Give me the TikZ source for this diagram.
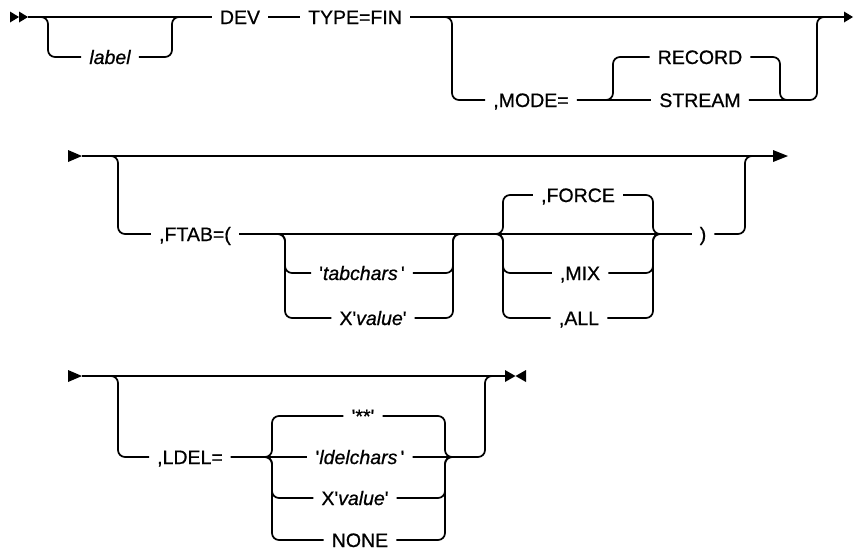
\documentclass[tikz,border=0pt]{standalone}
\usepackage{fontspec}
\setmainfont{Liberation Sans}
\newfontfamily\railfont[FakeBold=0.7]{Liberation Sans}
\usetikzlibrary{calc}
\newcommand{\sq}{\textquotesingle}
\begin{document}
\begin{tikzpicture}[x=1pt,y=-1pt,
  rail/.style={line width=1.7pt, rounded corners=7pt},
  kw/.style={font=\railfont\fontsize{19.5}{22}\selectfont, inner xsep=8pt, inner ysep=0pt, text height=14pt, text depth=0pt},
  var/.style={kw, font=\railfont\fontsize{19.5}{22}\selectfont\itshape},
  tipfill/.style={fill=black}]
\useasboundingbox (0,0) rectangle (854,550);

% ---------- row 1 ----------
\coordinate (s1) at (28,17);
\coordinate (e1) at (845,17);
\coordinate (lab-l) at (48,17);
\coordinate (lab-r) at (172,17);
\coordinate (m-l) at (452,17);
\coordinate (m-r) at (817,17);
\coordinate (rs-l) at (613,100);
\coordinate (rs-r) at (780,100);
\coordinate (rs-o) at (792,100);

\node[var] (label) at (110,57) {label};
\node[kw] (dev) at (240,17) {DEV};
\node[kw] (type) at (355,17) {TYPE=FIN};
\node[kw] (mode) at (531,100) {,MODE=};
\node[kw] (record) at (700,57) {RECORD};
\node[kw] (stream) at (700,100) {STREAM};

\fill[tipfill] (10,11.5) -- (19,17) -- (10,22.5) -- cycle;
\fill[tipfill] (19,11.5) -- (28,17) -- (19,22.5) -- cycle;
\draw[rail] (s1) -- (dev.west);
\draw[rail] (s1) -| (lab-l |- label) -- (label.west);
\draw[rail] (label.east) -| (lab-r) -- (dev.west);
\draw[rail] (dev.east) -- (type.west);
\draw[rail] (type.east) -- (e1);
\fill[tipfill] (844,11.5) -- (853,17) -- (844,22.5) -- cycle;
\draw[rail] (type.east) -| (m-l |- mode) -- (mode.west);
\draw[rail] (mode.east) -- (stream.west);
\draw[rail] (mode.east) -| (rs-l |- record) -- (record.west);
\draw[rail] (record.east) -| (rs-r) -- (rs-o);
\draw[rail] (stream.east) -| (m-r) -- (e1);

% ---------- row 2 ----------
\coordinate (s2) at (82,156);
\coordinate (e2) at (774,156);
\coordinate (f-l) at (118,156);
\coordinate (t-l) at (285,234);
\coordinate (t-r) at (453,234);
\coordinate (g-l) at (503,234);
\coordinate (g-r) at (653,234);
\coordinate (f-r) at (745,156);

\node[kw] (ftab) at (195,234) {,FTAB=(};
\node[var] (tab) at (362,273) {\upshape\sq\itshape tabchars\,\upshape\sq};
\node[kw] (xv) at (373,318) {X\sq\textit{value}\sq};
\node[kw] (force) at (578,195) {,FORCE};
\node[kw] (mix) at (580,273) {,MIX};
\node[kw] (all) at (579,318) {,ALL};
\node[kw] (rp) at (703,234) {)};

\fill[tipfill] (68,150) -- (82,156) -- (68,162) -- cycle;
\draw[rail] (s2) -- (e2);
\fill[tipfill] (773,150) -- (788,156) -- (773,162) -- cycle;
\draw[rail] (s2) -| (f-l |- ftab) -- (ftab.west);
\draw[rail] (ftab.east) -- (rp.west);
\draw[rail] (ftab.east) -| (t-l |- tab) -- (tab.west);
\draw[rail] (ftab.east) -| (t-l |- xv) -- (xv.west);
\draw[rail] (tab.east) -| (t-r) -- (g-l);
\draw[rail] (xv.east) -| (t-r) -- (g-l);
\draw[rail] (t-r) -| (g-l |- force) -- (force.west);
\draw[rail] (t-r) -| (g-l |- mix) -- (mix.west);
\draw[rail] (t-r) -| (g-l |- all) -- (all.west);
\draw[rail] (force.east) -| (g-r) -- (rp.west);
\draw[rail] (mix.east) -| (g-r) -- (rp.west);
\draw[rail] (all.east) -| (g-r) -- (rp.west);
\draw[rail] (rp.east) -| (f-r) -- (e2);

% ---------- row 3 ----------
\coordinate (s3) at (82,376);
\coordinate (e3) at (506,376);
\coordinate (l-l) at (118,376);
\coordinate (d-l) at (272,457);
\coordinate (d-r) at (445,457);
\coordinate (d-o) at (457,457);
\coordinate (l-r) at (485,376);

\node[kw] (ldel) at (190,457) {,LDEL=};
\node[kw] (star) at (363,416) {\sq**\sq};
\node[var] (ldc) at (360,457) {\upshape\sq\itshape ldelchars\,\upshape\sq};
\node[kw] (xv2) at (355,498) {X\sq\textit{value}\sq};
\node[kw] (none) at (360,540) {NONE};

\fill[tipfill] (68,370) -- (82,376) -- (68,382) -- cycle;
\draw[rail] (s3) -- (e3);
\fill[tipfill] (505,370) -- (515.5,376) -- (505,382) -- cycle;
\fill[tipfill] (526,370) -- (515.5,376) -- (526,382) -- cycle;
\draw[rail] (s3) -| (l-l |- ldel) -- (ldel.west);
\draw[rail] (ldel.east) -- (ldc.west);
\draw[rail] (ldel.east) -| (d-l |- star) -- (star.west);
\draw[rail] (ldel.east) -| (d-l |- xv2) -- (xv2.west);
\draw[rail] (ldel.east) -| (d-l |- none) -- (none.west);
\draw[rail] (ldc.east) -| (l-r) -- (e3);
\draw[rail] (star.east) -| (d-r) -- (d-o);
\draw[rail] (xv2.east) -| (d-r) -- (d-o);
\draw[rail] (none.east) -| (d-r) -- (d-o);
\end{tikzpicture}
\end{document}
